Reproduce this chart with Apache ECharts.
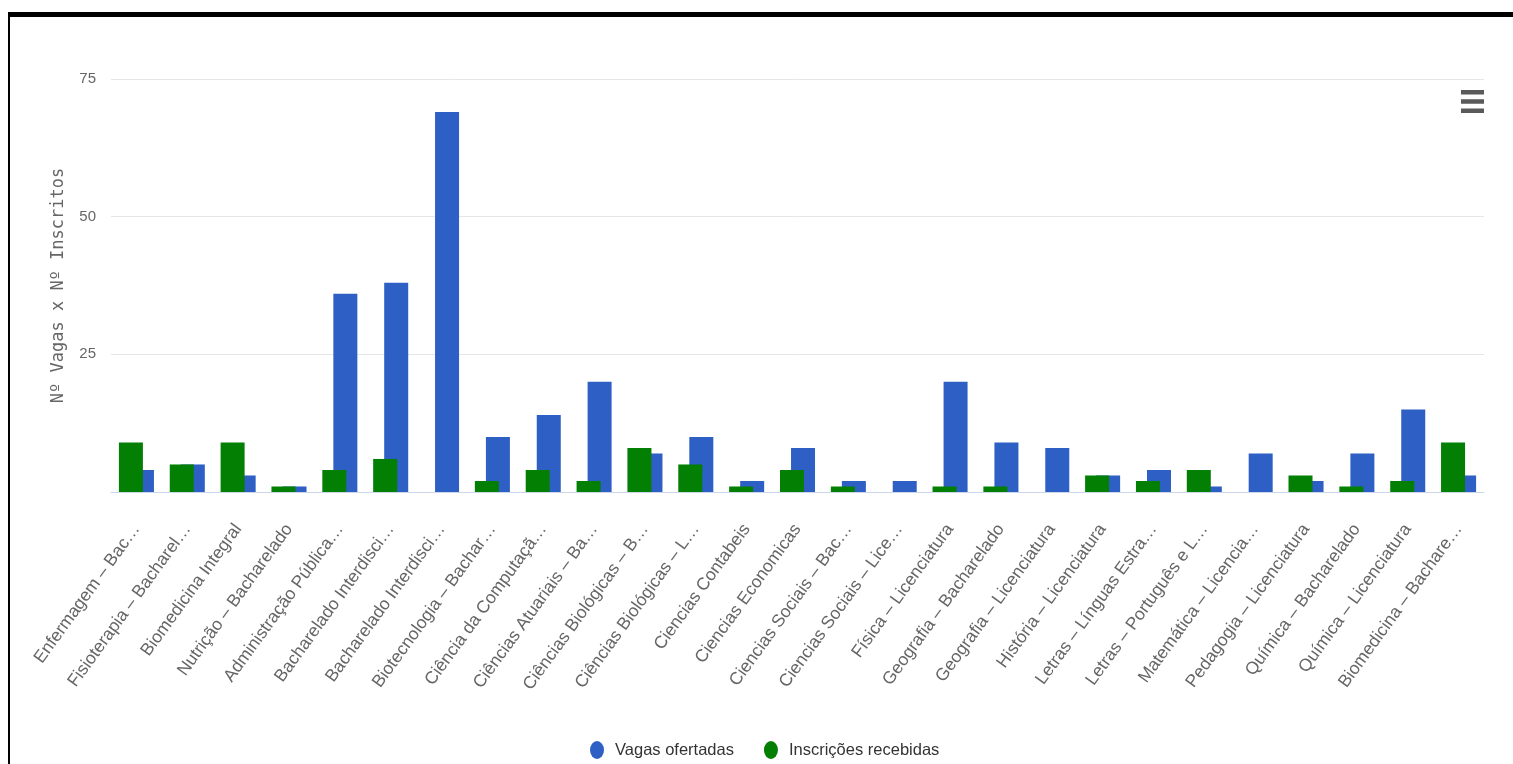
<!DOCTYPE html>
<html>
<head>
<meta charset="utf-8">
<script src="https://cdn.jsdelivr.net/npm/echarts@6/dist/echarts.min.js"></script>
<style>
  html, body { margin: 0; padding: 0; background: #fff; }
  #chart { position: absolute; left: 0; top: 0; width: 1513px; height: 764px; }
  .frame-top { position: absolute; left: 8px; top: 12px; width: 1505px; height: 5px; background: #000; pointer-events: none; }
  .frame-left { position: absolute; left: 8px; top: 12px; width: 2px; height: 752px; background: #000; pointer-events: none; }
</style>
</head>
<body>
<div id="chart"></div>
<div class="frame-top"></div>
<div class="frame-left"></div>
<script>
const categories = [
  "Enfermagem – Bac…",
  "Fisioterapia – Bacharel…",
  "Biomedicina Integral",
  "Nutrição – Bacharelado",
  "Administração Pública…",
  "Bacharelado Interdisci…",
  "Bacharelado Interdisci…",
  "Biotecnologia – Bachar…",
  "Ciência da Computaçã…",
  "Ciências Atuariais – Ba…",
  "Ciências Biológicas – B…",
  "Ciências Biológicas – L…",
  "Ciencias Contabeis",
  "Ciencias Economicas",
  "Ciencias Sociais – Bac…",
  "Ciencias Sociais – Lice…",
  "Física – Licenciatura",
  "Geografia – Bacharelado",
  "Geografia – Licenciatura",
  "História – Licenciatura",
  "Letras – Línguas Estra…",
  "Letras – Português e L…",
  "Matemática – Licencia…",
  "Pedagogia – Licenciatura",
  "Química – Bacharelado",
  "Química – Licenciatura",
  "Biomedicina – Bachare…"
];
const vagasOfertadas = [4, 5, 3, 1, 36, 38, 69, 10, 14, 20, 7, 10, 2, 8, 2, 2, 20, 9, 8, 3, 4, 1, 7, 2, 7, 15, 3];
const inscricoesRecebidas = [9, 5, 9, 1, 4, 6, 0, 2, 4, 2, 8, 5, 1, 4, 1, 0, 1, 1, 0, 3, 2, 4, 0, 3, 1, 2, 9];
const seriesNames = ["Vagas ofertadas", "Inscrições recebidas"];
const yTicks = { min: 0, max: 75, interval: 25 };
const yTitle = "Nº Vagas x Nº Inscritos";

const chart = echarts.init(document.getElementById('chart'), null, { renderer: 'canvas' });
const ellipse = 'path://M0,9a7,9 0 1,0 14,0a7,9 0 1,0 -14,0z';
chart.setOption({
  backgroundColor: '#fff',
  animation: false,
  grid: { left: 111, right: 29, top: 79, bottom: 272, containLabel: false },
  toolbox: {
    show: true, left: 1461, top: 90, padding: 0, itemSize: 23,
    iconStyle: { color: '#5a5a5a', borderWidth: 0 },
    emphasis: { iconStyle: { color: '#333', borderWidth: 0, textFill: 'transparent' } },
    feature: {
      myMenu: { show: true, title: '', icon: 'path://M0,0H23V4.5H0Z M0,9.25H23V13.75H0Z M0,18.5H23V23H0Z', onclick: function () {} }
    }
  },
  legend: {
    data: seriesNames,
    left: 585, top: 736,
    icon: ellipse,
    itemWidth: 14, itemHeight: 18, itemGap: 30,
    textStyle: { color: '#333', fontSize: 16.5, fontFamily: 'Liberation Sans, sans-serif', padding: [0, 0, 0, 6] }
  },
  xAxis: {
    type: 'category',
    data: categories,
    axisLine: { lineStyle: { color: '#ccd6eb', width: 1 } },
    axisTick: { show: false },
    axisLabel: {
      interval: 0, rotate: 54, margin: 34,
      color: '#666', fontSize: 17.5, fontFamily: 'Liberation Sans, sans-serif'
    }
  },
  yAxis: {
    type: 'value',
    min: yTicks.min, max: yTicks.max, interval: yTicks.interval,
    name: yTitle, nameLocation: 'middle', nameGap: 44,
    nameTextStyle: { color: '#666', fontSize: 17, fontFamily: 'DejaVu Sans Mono, monospace' },
    axisLine: { show: false }, axisTick: { show: false },
    axisLabel: { showMinLabel: false, margin: 15, color: '#666', fontSize: 15, fontFamily: 'Liberation Sans, sans-serif' },
    splitLine: { lineStyle: { color: '#e6e6e6', width: 1 } }
  },
  series: [
    {
      name: seriesNames[1], type: 'bar', data: inscricoesRecebidas,
      barWidth: 24, barGap: '-54%', z: 3,
      itemStyle: { color: '#037f03' }
    },
    {
      name: seriesNames[0], type: 'bar', data: vagasOfertadas,
      barWidth: 24, barGap: '-54%', z: 2,
      itemStyle: { color: '#2d5fc4' }
    }
  ]
});
</script>
</body>
</html>
